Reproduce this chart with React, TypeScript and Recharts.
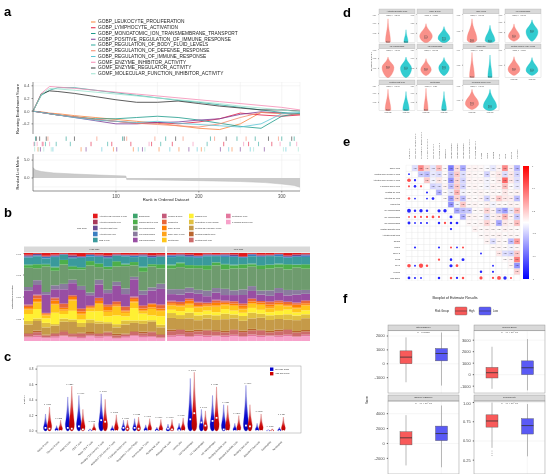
import React from 'react';
import {
  Area, AreaChart, Bar, BarChart, CartesianGrid, ComposedChart, Line, LineChart,
  Scatter, ScatterChart, XAxis, YAxis,
} from 'recharts';

const FONT = '"Liberation Sans", Arial, Helvetica, sans-serif';
const AXIS = '#4d4d4d';

// ---------- panel a: GSEA ----------
const gseaSets = [
  'GOBP_LEUKOCYTE_PROLIFERATION',
  'GOBP_LYMPHOCYTE_ACTIVATION',
  'GOBP_MONOATOMIC_ION_TRANSMEMBRANE_TRANSPORT',
  'GOBP_POSITIVE_REGULATION_OF_IMMUNE_RESPONSE',
  'GOBP_REGULATION_OF_BODY_FLUID_LEVELS',
  'GOBP_REGULATION_OF_DEFENSE_RESPONSE',
  'GOBP_REGULATION_OF_IMMUNE_RESPONSE',
  'GOMF_ENZYME_INHIBITOR_ACTIVITY',
  'GOMF_ENZYME_REGULATOR_ACTIVITY',
  'GOMF_MOLECULAR_FUNCTION_INHIBITOR_ACTIVITY',
];
const gseaColors = ['#F8833D', '#E3183D', '#1C9A8A', '#7B3A96', '#2DAA9E', '#F4866A', '#5CC5D5', '#F58BB4', '#333333', '#9EE3D1'];
const rankPoints = [0, 10, 20, 30, 50, 75, 100, 125, 150, 175, 200, 225, 250, 275, 300, 322];
const esLeuk = [0, -0.01, -0.03, -0.04, -0.07, -0.1, -0.13, -0.16, -0.19, -0.23, -0.27, -0.29, -0.2, -0.02, -0.03, -0.05];
const esLymph = [0, -0.02, -0.04, -0.06, -0.09, -0.13, -0.16, -0.19, -0.18, -0.2, -0.17, -0.12, -0.03, -0.06, -0.08, -0.06];
const esIon = [0, -0.02, -0.04, -0.06, -0.09, -0.12, -0.12, -0.1, -0.08, -0.1, -0.14, -0.19, -0.24, -0.27, -0.08, -0.03];
const esPosImm = [0, -0.02, -0.04, -0.06, -0.1, -0.15, -0.2, -0.2, -0.18, -0.17, -0.14, -0.12, -0.05, -0.01, -0.03, -0.05];
const esFluid = [0, 0.25, 0.33, 0.37, 0.37, 0.33, 0.29, 0.25, 0.21, 0.17, 0.14, 0.1, 0.06, 0.02, -0.02, -0.04];
const esDefense = [0, -0.02, -0.04, -0.06, -0.09, -0.13, -0.16, -0.19, -0.21, -0.23, -0.25, -0.2, -0.1, -0.02, -0.04, -0.05];
const esImm = [0, -0.02, -0.04, -0.06, -0.1, -0.14, -0.16, -0.18, -0.16, -0.19, -0.21, -0.23, -0.25, -0.2, -0.04, -0.02];
const esEnzInh = [0, 0.28, 0.39, 0.38, 0.36, 0.33, 0.3, 0.27, 0.24, 0.21, 0.18, 0.15, 0.12, 0.09, 0.06, 0.02];
const esEnzReg = [0, 0.27, 0.32, 0.31, 0.28, 0.23, 0.18, 0.14, 0.14, 0.16, 0.12, 0.08, 0.05, 0.02, 0.02, 0];
const esMolInh = [0, 0.26, 0.36, 0.35, 0.33, 0.3, 0.27, 0.24, 0.21, 0.18, 0.15, 0.12, 0.08, 0.05, 0.02, -0.01];
const esCurves = [esLeuk, esLymph, esIon, esPosImm, esFluid, esDefense, esImm, esEnzInh, esEnzReg, esMolInh];

const hitsLeuk = [6, 58, 97, 121, 152, 176, 203, 240];
const hitsLymph = [12, 70, 95, 118, 143, 168, 230, 260, 288];
const hitsIon = [3, 40, 108, 160, 214, 246, 268, 300, 315];
const hitsPosImm = [9, 64, 101, 132, 188, 226, 250, 279];
const hitsFluid = [2, 15, 28, 45, 90, 154, 210, 272, 310];
const hitsDefense = [18, 77, 113, 147, 181, 219, 257, 296];
const hitsImm = [24, 83, 127, 165, 198, 236, 262, 305];
const hitsEnzInh = [1, 5, 11, 20, 140, 193, 254, 298, 318];
const hitsEnzReg = [4, 8, 16, 50, 110, 172, 233, 284, 312];
const hitsMolInh = [2, 7, 13, 22, 135, 207, 266, 302, 320];
const hitLists = [hitsLeuk, hitsLymph, hitsIon, hitsPosImm, hitsFluid, hitsDefense, hitsImm, hitsEnzInh, hitsEnzReg, hitsMolInh];

const metricRank = [0, 3, 10, 25, 50, 80, 112, 113, 150, 200, 250, 280, 300, 315, 322];
const metricValue = [2.9, 2.2, 1.8, 1.4, 1.1, 0.8, 0.55, -0.45, -0.55, -0.75, -1.0, -1.3, -1.7, -2.1, -2.6];

// ---------- panel b: CIBERSORT proportions (16 High Risk + 16 Low Risk samples) ----------
const cellTypes = [
  'Activated CD4 memory T cells', 'Activated dendritic cells', 'Activated mast cells', 'Activated NK cells', 'CD8 T cells',
  'Eosinophils', 'Gamma delta T cells', 'M0 Macrophages', 'M1 Macrophages', 'M2 Macrophages',
  'Memory B cells', 'Monocytes', 'Naive B cells', 'Naive CD4 T cells', 'Neutrophils',
  'Plasma cells', 'Regulatory T cells (Tregs)', 'Resting CD4 memory T cells', 'Resting dendritic cells', 'Resting mast cells',
  'Resting NK cells', 'T follicular helper cells',
];
const cellColors = [
  '#E41A1C', '#A8385A', '#6A4C93', '#3A7EC1', '#3A9A9C',
  '#3DA46C', '#4DAF4A', '#6E9B6E', '#8A7B9E', '#984EA3',
  '#C45A7A', '#E8673A', '#FF7F00', '#FFA31A', '#FFC61A',
  '#FFF033', '#E0C040', '#C59A48', '#B9652F', '#CD6B6B',
  '#E3789E', '#F7A1CA',
];
const pActCD4 = [2, 1, 3, 2, 1, 2, 4, 1, 2, 3, 1, 2, 2, 1, 3, 2, 2, 1, 2, 3, 1, 2, 1, 2, 4, 1, 2, 2, 1, 3, 2, 1];
const pActDC = [1, 0, 1, 1, 0, 1, 0, 1, 1, 0, 1, 0, 1, 1, 0, 1, 0, 1, 0, 1, 1, 0, 1, 0, 1, 0, 1, 1, 0, 1, 0, 1];
const pActMast = [1, 2, 0, 1, 1, 2, 1, 0, 1, 2, 1, 1, 0, 1, 2, 1, 1, 1, 2, 0, 1, 1, 1, 2, 0, 1, 1, 0, 1, 1, 2, 1];
const pActNK = [1, 1, 2, 1, 0, 1, 1, 2, 1, 1, 0, 1, 2, 1, 1, 0, 2, 1, 1, 2, 1, 1, 2, 1, 1, 2, 1, 1, 2, 1, 1, 2];
const pCD8 = [8, 10, 6, 12, 7, 9, 11, 5, 8, 10, 7, 9, 6, 12, 8, 9, 9, 8, 10, 9, 11, 8, 9, 10, 8, 9, 10, 11, 9, 8, 10, 9];
const pEos = [1, 0, 1, 1, 0, 1, 1, 0, 1, 0, 1, 1, 0, 1, 0, 1, 1, 1, 0, 1, 1, 0, 1, 1, 0, 1, 1, 0, 1, 1, 0, 1];
const pGammaDelta = [3, 5, 2, 4, 6, 3, 2, 5, 4, 3, 6, 2, 4, 5, 3, 4, 4, 5, 4, 3, 5, 4, 6, 4, 5, 3, 4, 5, 4, 6, 4, 5];
const pM0 = [22, 15, 28, 18, 25, 12, 20, 30, 16, 24, 19, 27, 14, 22, 26, 18, 25, 28, 24, 27, 26, 29, 25, 28, 26, 24, 27, 28, 25, 26, 29, 27];
const pM1 = [4, 6, 3, 5, 7, 4, 5, 3, 6, 4, 5, 7, 3, 5, 4, 6, 6, 7, 6, 5, 7, 6, 8, 6, 7, 6, 5, 7, 6, 7, 6, 5];
const pM2 = [16, 12, 20, 10, 18, 14, 22, 11, 17, 13, 19, 15, 21, 12, 16, 18, 8, 9, 7, 10, 8, 9, 7, 8, 10, 9, 8, 7, 9, 8, 10, 8];
const pMemB = [1, 1, 0, 1, 1, 0, 1, 1, 0, 1, 1, 0, 1, 1, 0, 1, 1, 0, 1, 1, 0, 1, 1, 0, 1, 1, 0, 1, 1, 0, 1, 1];
const pMono = [2, 4, 1, 3, 5, 2, 3, 1, 4, 2, 3, 5, 2, 3, 1, 4, 2, 3, 2, 3, 2, 3, 2, 3, 2, 3, 2, 3, 2, 3, 2, 3];
const pNaiveB = [2, 3, 1, 4, 2, 3, 2, 1, 3, 4, 2, 1, 3, 2, 4, 2, 2, 2, 3, 2, 2, 3, 2, 2, 3, 2, 2, 3, 2, 2, 3, 2];
const pNaiveCD4 = [1, 2, 1, 1, 2, 1, 2, 1, 1, 2, 1, 2, 1, 1, 2, 1, 1, 1, 2, 1, 1, 2, 1, 1, 2, 1, 1, 2, 1, 1, 2, 1];
const pNeut = [5, 8, 3, 10, 4, 12, 6, 3, 9, 5, 11, 4, 7, 3, 8, 6, 5, 6, 4, 6, 5, 7, 5, 6, 4, 5, 6, 5, 7, 4, 5, 6];
const pPlasma = [8, 12, 5, 14, 6, 10, 4, 9, 13, 7, 11, 5, 15, 8, 6, 10, 4, 5, 6, 4, 5, 4, 6, 5, 4, 6, 5, 4, 5, 6, 4, 5];
const pTregs = [4, 3, 5, 2, 4, 3, 5, 4, 3, 2, 4, 5, 3, 4, 2, 3, 6, 5, 7, 6, 5, 6, 7, 5, 6, 7, 5, 6, 5, 7, 6, 5];
const pRestCD4 = [10, 12, 8, 9, 11, 13, 7, 10, 12, 9, 8, 11, 10, 9, 12, 8, 14, 13, 15, 12, 14, 13, 15, 14, 12, 13, 15, 14, 13, 12, 14, 15];
const pRestDC = [1, 2, 1, 1, 2, 1, 1, 2, 1, 1, 2, 1, 1, 2, 1, 1, 2, 1, 2, 2, 1, 2, 2, 1, 2, 2, 1, 2, 2, 1, 2, 2];
const pRestMast = [3, 4, 2, 3, 5, 3, 4, 2, 3, 4, 3, 2, 4, 3, 5, 3, 5, 6, 5, 4, 6, 5, 4, 6, 5, 5, 6, 4, 5, 6, 5, 4];
const pRestNK = [1, 2, 1, 2, 1, 1, 2, 1, 2, 1, 1, 2, 1, 2, 1, 1, 2, 2, 1, 2, 2, 1, 2, 2, 1, 2, 2, 1, 2, 2, 1, 2];
const pTfh = [4, 5, 3, 4, 6, 4, 3, 5, 4, 5, 3, 4, 6, 4, 5, 3, 5, 6, 5, 6, 5, 6, 5, 6, 5, 6, 5, 6, 5, 6, 5, 6];
const cellValues = [
  pActCD4, pActDC, pActMast, pActNK, pCD8, pEos, pGammaDelta, pM0, pM1, pM2, pMemB,
  pMono, pNaiveB, pNaiveCD4, pNeut, pPlasma, pTregs, pRestCD4, pRestDC, pRestMast, pRestNK, pTfh,
];
const highRiskCount = 16;

// ---------- panel c: violin summary ----------
const cNames = [
  'Naive B cells', 'Memory B cells', 'Plasma cells', 'CD8 T cells', 'Naive CD4 T cells',
  'Resting CD4 memory T cells', 'Activated CD4 memory T cells', 'T follicular helper cells',
  'Regulatory T cells (Tregs)', 'Gamma delta T cells', 'Resting NK cells', 'Activated NK cells',
  'Monocytes', 'M0 Macrophages', 'M1 Macrophages', 'M2 Macrophages', 'Resting dendritic cells',
  'Activated dendritic cells', 'Resting mast cells', 'Activated mast cells', 'Eosinophils', 'Neutrophils',
];
const cLowMax = [0.22, 0.07, 0.44, 0.46, 0.03, 0.48, 0.07, 0.14, 0.16, 0.08, 0.05, 0.09, 0.1, 0.68, 0.28, 0.46, 0.34, 0.1, 0.59, 0.1, 0.02, 0.05];
const cHighMax = [0.31, 0.14, 0.58, 0.28, 0.1, 0.41, 0.21, 0.14, 0.18, 0.16, 0.15, 0.15, 0.17, 0.76, 0.26, 0.57, 0.33, 0.2, 0.34, 0.22, 0.03, 0.18];
const cLowMedian = [0.04, 0, 0.04, 0.06, 0, 0.14, 0, 0.04, 0.04, 0, 0, 0.03, 0.01, 0.15, 0.11, 0.13, 0.02, 0, 0.07, 0, 0, 0];
const cHighMedian = [0.03, 0, 0.03, 0.02, 0, 0.12, 0, 0.03, 0.03, 0, 0, 0.02, 0, 0.23, 0.07, 0.17, 0, 0, 0.06, 0, 0, 0];
const cPvals = [
  'p=0.086', 'p=0.273', 'p=0.329', 'p=0.004', 'p=0.511', 'p=0.098', 'p=0.203', 'p=0.057', 'p=0.082', 'p=0.140', 'p=0.264',
  'p=0.007', 'p=0.056', 'p=0.001', 'p=0.041', 'p=0.021', 'p=0.027', 'p=0.269', 'p=0.249', 'p=0.287', 'p=0.316', 'p=0.136',
];

// ---------- panel d: faceted violins ----------
const dTitles = [
  'Activated Dendritic Cells', 'Naive B cells', 'CD8 T cells', 'M0 Macrophages', 'M1 Macrophages', 'M2 Macrophages',
  'Monocytes', 'Resting Memory CD4 T cells', 'Resting Mast cells', 'Neutrophils', 'T follicular helper cells',
];
const dPvals = [
  'Wilcox, p = 3.2e-06', 'Wilcox, p = 0.0021', 'Wilcox, p = 1.5e-05', 'Wilcox, p = 8.7e-09', 'Wilcox, p = 4.1e-07',
  'Wilcox, p = 2.6e-05', 'Wilcox, p = 0.013', 'Wilcox, p = 0.0048', 'Wilcox, p = 6.3e-04', 'Wilcox, p = 0.031', 'Wilcox, p = 1.1e-06',
];
const dYMax = [0.24, 0.3, 0.36, 0.7, 0.18, 0.24, 0.34, 0.34, 0.24, 0.24, 0.36];
const dHighRange = [[0, 0.2], [0, 0.2], [0, 0.3], [0.04, 0.46], [0, 0.13], [0.02, 0.16], [0, 0.3], [0.03, 0.25], [0, 0.2], [0, 0.21], [0.02, 0.3]];
const dHighMode = [0.01, 0.07, 0.04, 0.16, 0.065, 0.07, 0.008, 0.1, 0.008, 0.005, 0.1];
const dHighWidth = [0.35, 0.9, 0.7, 0.8, 0.85, 0.75, 0.35, 0.85, 0.4, 0.3, 0.95];
const dHighMedian = [0.005, 0.06, 0.03, 0.16, 0.065, 0.07, 0.004, 0.1, 0.005, 0.003, 0.1];
const dLowRange = [[0, 0.11], [0, 0.17], [0, 0.22], [0.04, 0.56], [0, 0.13], [0.02, 0.17], [0, 0.27], [0.03, 0.24], [0, 0.18], [0, 0.18], [0, 0.3]];
const dLowMode = [0.005, 0.05, 0.03, 0.27, 0.06, 0.085, 0.008, 0.09, 0.008, 0.008, 0.06];
const dLowWidth = [0.3, 0.85, 0.7, 0.85, 0.8, 0.75, 0.3, 0.85, 0.45, 0.35, 0.95];
const dLowMedian = [0.003, 0.04, 0.02, 0.28, 0.06, 0.085, 0.003, 0.09, 0.005, 0.004, 0.06];

// ---------- panel e: correlation matrix ----------
const eVars = [
  'CD8 T cells', 'Resting CD4 memory T cells', 'Activated CD4 memory T cells', 'T follicular helper cells',
  'Resting NK cells', 'Activated NK cells', 'Monocytes', 'M0 Macrophages', 'M1 Macrophages', 'M2 Macrophages',
  'Resting dendritic cells', 'Activated mast cells', 'CD163', 'MMP9', 'S100A8', 'TLR2', 'PTX3', 'CXCR1', 'Risk Score',
];
// row i holds r(i, j) for j = i+1 .. 18
const eCorrUpper = [
  [-0.15, 0.55, 0.2, -0.12, 0.3, 0.02, -0.6, 0.15, -0.4, 0.04, 0.05, 0.03, -0.02, -0.1, 0.05, 0.55, 0.06, -0.35],
  [-0.25, -0.3, -0.1, -0.15, 0.02, -0.3, 0.25, -0.15, 0.05, 0.03, 0.02, -0.2, 0.04, 0.1, -0.15, 0.1, -0.2],
  [0.25, -0.05, 0.1, 0.02, -0.5, 0.2, -0.2, 0.05, 0.03, 0.04, -0.05, 0.02, 0.08, 0.7, 0.1, -0.15],
  [-0.2, -0.15, 0.05, -0.3, 0.25, -0.2, 0.03, 0.04, 0.02, -0.05, 0.05, 0.04, 0.3, 0.02, -0.1],
  [-0.35, 0.02, -0.1, 0.35, -0.05, 0.02, 0.03, 0.04, 0.02, 0.03, 0.02, 0.1, 0.03, 0.05],
  [0.02, -0.45, 0.2, -0.3, 0.04, 0.02, 0.05, -0.2, 0.05, 0.25, 0.1, 0.08, -0.3],
  [-0.5, -0.05, 0.25, 0.03, 0.04, 0.02, 0.05, -0.05, 0.03, 0.02, 0.06, 0.04],
  [-0.4, -0.3, -0.25, 0.02, 0.03, 0.2, 0.05, -0.3, -0.45, -0.1, 0.3],
  [-0.35, 0.05, 0.04, 0.02, -0.15, 0.05, 0.1, 0.35, 0.05, -0.25],
  [0.03, 0.02, 0.04, 0.2, 0.05, -0.4, 0.1, 0.05, 0.3],
  [0.05, 0.02, 0.04, 0.03, 0.02, 0.05, 0.03, 0.02],
  [0.02, 0.04, 0.03, 0.05, 0.02, 0.04, 0.03],
  [0.05, -0.15, 0.04, 0.02, -0.3, 0.45],
  [0.03, 0.04, 0.02, -0.05, 0.04],
  [0.1, -0.15, -0.2, 0.25],
  [0.02, 0.05, 0.6],
  [0.04, -0.5],
  [0.2],
];
const eBarTicks = [1, 0.6, 0.2, -0.2, -0.6, -1];

// ---------- panel f: ESTIMATE boxplots ----------
const fScores = ['StromalScore', 'ImmuneScore', 'ESTIMATEScore', 'TumorPurity'];
const fPvals = ['p = 0.00018', 'p = 4.4 × 10^-11', 'p = 4.4 × 10^-11', 'p = 4.4 × 10^-11'];
// [lower whisker, Q1, median, Q3, upper whisker]
const fHigh = [[-1330, 0, 480, 930, 1900], [-1230, -290, 170, 630, 2430], [-2950, -190, 760, 1570, 3800], [0.41, 0.68, 0.76, 0.84, 1.0]];
const fLow = [[-1570, 210, 740, 1100, 2250], [-1370, 0, 600, 1200, 3100], [-3200, 380, 1330, 2330, 5100], [0.3, 0.59, 0.7, 0.79, 0.98]];
const fHighOutliers = [[], [], [], [0.37, 0.34, 0.31]];
const fLowOutliers = [[], [], [], []];
const fDomains = [[-2140, 2360], [-1640, 3800], [-4100, 5700], [0.07, 1.02]];
const fTicks = [[-2000, -1000, 0, 1000, 2000], [-1000, 0, 1000, 2000, 3000], [-2000, 0, 2000, 4000], [0.25, 0.5, 0.75, 1]];

// ---------- helpers ----------
const Abs = ({ x, y, children }: any) => (
  <div style={{ position: 'absolute', left: x, top: y, willChange: 'transform' }}>{children}</div>
);
const Layer = ({ children }: any) => (
  <svg width={550} height={474} fontFamily={FONT}
    style={{ position: 'absolute', left: 0, top: 0, overflow: 'visible', pointerEvents: 'none', willChange: 'transform' }}>
    {children}
  </svg>
);
const VText = ({ x, y, size, children }: any) => (
  <text x={x} y={y} fontSize={size} fill="#222" textAnchor="middle" dominantBaseline="middle"
    transform={`rotate(-90 ${x} ${y})`}>{children}</text>
);
const Tag = ({ x, y, t }: any) => (
  <text x={x} y={y} fontSize={13} fontWeight={700} fill="#000">{t}</text>
);
const fmt = (v: any, d: number) => (typeof v === 'number' ? v.toFixed(d) : String(v ?? ''));

function corrColor(r: number) {
  const t = Math.min(1, Math.abs(r));
  const c = Math.round(255 * (1 - t));
  return r >= 0 ? `rgb(255,${c},${c})` : `rgb(${c},${c},255)`;
}

// ---------- panel a ----------
function PanelA() {
  const esData = rankPoints.map((r, i) => {
    const row: any = { rank: r };
    esCurves.forEach((c, k) => { row['s' + k] = c[i]; });
    return row;
  });
  const metricData = metricRank.map((r, i) => ({ rank: r, value: metricValue[i] }));
  return (
    <>
      <Abs x={0} y={82}>
        <LineChart width={305} height={52} data={esData} margin={{ top: 0, right: 5, bottom: 0, left: 0 }}>
          <CartesianGrid stroke="#ebebeb" strokeWidth={0.5} />
          <XAxis dataKey="rank" type="number" domain={[0, 322]} ticks={[50, 100, 150, 200, 250, 300]} hide />
          <YAxis type="number" domain={[-0.36, 0.46]} ticks={[-0.2, 0, 0.2, 0.4]} width={33}
            tickFormatter={(v: any) => fmt(v, 1)} tick={{ fontSize: 4, fill: AXIS }} tickSize={1.5}
            stroke="#333" strokeWidth={0.5} />
          {esCurves.map((_, k) => (
            <Line key={k} dataKey={'s' + k} type="linear" stroke={gseaColors[k]} strokeWidth={0.8}
              dot={false} isAnimationActive={false} />
          ))}
        </LineChart>
      </Abs>
      <Abs x={0} y={134}>
        <ScatterChart width={305} height={20} margin={{ top: 2, right: 5, bottom: 2, left: 33 }}>
          <XAxis dataKey="rank" type="number" domain={[0, 322]} hide />
          <YAxis dataKey="lane" type="number" domain={[-0.5, 2.5]} hide />
          {hitLists.map((h, k) => (
            <Scatter key={k} data={h.map((r) => ({ rank: r, lane: k % 3 }))} isAnimationActive={false}
              shape={(p: any) => (
                <line x1={p.cx} x2={p.cx} y1={p.cy - 2.2} y2={p.cy + 2.2} stroke={gseaColors[k]} strokeWidth={0.6} />
              )} />
          ))}
        </ScatterChart>
      </Abs>
      <Abs x={0} y={154}>
        <AreaChart width={305} height={47} data={metricData} margin={{ top: 0, right: 5, bottom: 0, left: 0 }}>
          <CartesianGrid stroke="#ebebeb" strokeWidth={0.5} />
          <XAxis dataKey="rank" type="number" domain={[0, 322]} ticks={[100, 200, 300]} height={10}
            tick={{ fontSize: 4.5, fill: AXIS }} tickSize={1.5} stroke="#333" strokeWidth={0.5} />
          <YAxis type="number" domain={[-3.65, 6.7]} ticks={[-2.5, 0, 2.5, 5]} width={33}
            tickFormatter={(v: any) => fmt(v, 1)} tick={{ fontSize: 4, fill: AXIS }} tickSize={1.5}
            stroke="#333" strokeWidth={0.5} />
          <Area dataKey="value" type="linear" baseValue={0} fill="#cbcbcb" fillOpacity={1} stroke="#bdbdbd"
            strokeWidth={0.5} isAnimationActive={false} />
        </AreaChart>
      </Abs>
      <Layer>
        <Tag x={4} y={16} t="a" />
        {gseaSets.map((s, k) => (
          <g key={s}>
            <line x1={91} x2={95.5} y1={22 + k * 5.75} y2={22 + k * 5.75} stroke={gseaColors[k]} strokeWidth={1} />
            <text x={98} y={22 + k * 5.75} fontSize={4.8} fill="#222" dominantBaseline="middle">{s}</text>
          </g>
        ))}
        <VText x={18} y={109} size={4.2}>Running Enrichment Score</VText>
        <VText x={18} y={173} size={4}>Ranked List Metric</VText>
        <text x={166} y={200} fontSize={4.2} fill="#222" textAnchor="middle" dominantBaseline="middle">Rank in Ordered Dataset</text>
      </Layer>
    </>
  );
}

// ---------- panel b ----------
function PanelB() {
  const rows = cellValues[0].map((_, s) => {
    const row: any = { id: 's' + s };
    cellValues.forEach((vals, k) => { row['c' + k] = vals[s]; });
    return row;
  });
  const high = rows.slice(0, highRiskCount);
  const low = rows.slice(highRiskCount);
  const order = cellTypes.map((_, k) => cellTypes.length - 1 - k); // last level at the bottom
  const bars = order.map((k) => (
    <Bar key={k} dataKey={'c' + k} stackId="s" fill={cellColors[k]} isAnimationActive={false} />
  ));
  const legendX = [93, 133, 162, 189, 226];
  return (
    <>
      <Abs x={0} y={253}>
        <BarChart width={166} height={88} data={high} stackOffset="expand" barCategoryGap={0}
          margin={{ top: 0, right: 1, bottom: 0, left: 0 }}>
          <XAxis dataKey="id" hide />
          <YAxis width={24} domain={[0, 1]} ticks={[0.25, 0.5, 0.75, 1]} tickFormatter={(v: any) => fmt(v, 2)}
            tick={{ fontSize: 2.4, fill: AXIS }} tickSize={1} axisLine={false} stroke="#888" />
          {bars}
        </BarChart>
      </Abs>
      <Abs x={167} y={253}>
        <BarChart width={143} height={88} data={low} stackOffset="expand" barCategoryGap={0}
          margin={{ top: 0, right: 0, bottom: 0, left: 0 }}>
          <XAxis dataKey="id" hide />
          <YAxis hide domain={[0, 1]} />
          {bars}
        </BarChart>
      </Abs>
      <Layer>
        <Tag x={4} y={217} t="b" />
        <text x={77} y={228} fontSize={2.4} fill="#222" dominantBaseline="middle">Cell Type</text>
        {cellTypes.map((c, k) => {
          const lx = legendX[Math.floor(k / 5)];
          const ly = 216 + (k % 5) * 6;
          return (
            <g key={c}>
              <rect x={lx} y={ly - 2.3} width={4.6} height={4.6} fill={cellColors[k]} />
              <text x={lx + 6} y={ly} fontSize={2.1} fill="#333" dominantBaseline="middle">{c}</text>
            </g>
          );
        })}
        <rect x={24} y={246.5} width={141} height={6} fill="#d9d9d9" />
        <text x={94.5} y={249.6} fontSize={2.3} fill="#333" textAnchor="middle" dominantBaseline="middle">High Risk</text>
        <rect x={167} y={246.5} width={143} height={6} fill="#d9d9d9" />
        <text x={238.5} y={249.6} fontSize={2.3} fill="#333" textAnchor="middle" dominantBaseline="middle">Low Risk</text>
        <VText x={12} y={297} size={2.5}>Estimated Proportion</VText>
      </Layer>
    </>
  );
}

// ---------- panel c ----------
function cViolin(side: 'low' | 'high') {
  return (p: any) => {
    const { x, y, width, height, payload } = p;
    const hi = payload[side][1];
    if (!(height > 0) || !(hi > 0)) return <g />;
    const bot = y + height;
    const px = (v: number) => bot - (v / hi) * height;
    const cx = x + width / 2;
    const w = width * (0.85 + 0.45 * Math.min(1, height / 40));
    const sh = Math.min(height * 0.22, 7);
    const d = `M${cx},${bot} Q${cx - w / 2},${bot} ${cx - w / 2},${bot - sh} Q${cx - w * 0.15},${bot - height * 0.5} ${cx},${y} ` +
      `Q${cx + w * 0.15},${bot - height * 0.5} ${cx + w / 2},${bot - sh} Q${cx + w / 2},${bot} ${cx},${bot} Z`;
    const med = side === 'low' ? payload.lowMed : payload.highMed;
    return (
      <g>
        <path d={d} fill={`url(#cg-${side})`} stroke={side === 'low' ? '#2020c8' : '#c82020'} strokeWidth={0.25} />
        <rect x={cx - 0.9} y={px(med) - 0.9} width={1.8} height={1.8} fill="#fff" />
        {side === 'high' && (
          <text x={x} y={px(payload.top) - 1.6} textAnchor="middle" fontSize={1.9} fill="#333">{payload.p}</text>
        )}
      </g>
    );
  };
}
const cLowShape = cViolin('low');
const cHighShape = cViolin('high');

function PanelC() {
  const data = cNames.map((n, i) => ({
    name: n,
    low: [0, cLowMax[i]],
    high: [0, cHighMax[i]],
    lowMed: cLowMedian[i],
    highMed: cHighMedian[i],
    top: Math.max(cLowMax[i], cHighMax[i]),
    p: cPvals[i],
  }));
  return (
    <>
      <Abs x={0} y={366}>
        <ComposedChart width={301} height={108} data={data} barGap={0} barCategoryGap={1.5}
          margin={{ top: 0, right: 0, bottom: 0, left: 0 }}>
          <defs>
            <linearGradient id="cg-low" x1="0" y1="0" x2="0" y2="1">
              <stop offset="0" stopColor="#dcdce6" />
              <stop offset="0.65" stopColor="#0a0ad0" />
              <stop offset="1" stopColor="#0000b4" />
            </linearGradient>
            <linearGradient id="cg-high" x1="0" y1="0" x2="0" y2="1">
              <stop offset="0" stopColor="#e6dcdc" />
              <stop offset="0.65" stopColor="#d00a0a" />
              <stop offset="1" stopColor="#b40000" />
            </linearGradient>
          </defs>
          <XAxis dataKey="name" interval={0} height={41} padding={{ left: 5, right: 14 }} axisLine={false} tickLine={false}
            tick={(p: any) => (
              <text x={p.x + 1} y={p.y + 1} textAnchor="end" fontSize={2.5} fill="#333"
                transform={`rotate(-45 ${p.x + 1} ${p.y + 1})`}>{p.payload.value}</text>
            )} />
          <YAxis type="number" domain={[-0.026, 0.84]} ticks={[0, 0.2, 0.4, 0.6, 0.8]} width={37}
            tickFormatter={(v: any) => fmt(v, 1)} tick={{ fontSize: 3, fill: AXIS }} tickSize={1.5}
            axisLine={false} stroke="#666" />
          <Bar dataKey="low" shape={cLowShape} isAnimationActive={false} />
          <Bar dataKey="high" shape={cHighShape} isAnimationActive={false} />
        </ComposedChart>
      </Abs>
      <Layer>
        <Tag x={4} y={361} t="c" />
        <rect x={37} y={366} width={264} height={67} fill="none" stroke="#999" strokeWidth={0.5} />
        <rect x={270} y={367.5} width={3.4} height={3.4} fill="#0000cc" />
        <text x={275} y={369.3} fontSize={2} fill="#333" dominantBaseline="middle">Low Risk Group</text>
        <rect x={270} y={372} width={3.4} height={3.4} fill="#cc0000" />
        <text x={275} y={373.8} fontSize={2} fill="#333" dominantBaseline="middle">High Risk Group</text>
        <VText x={24} y={400} size={2.4}>Fraction</VText>
      </Layer>
    </>
  );
}

// ---------- panel d ----------
const D_HIGH = '#F8766D';
const D_LOW = '#00BFC4';
const dViolinShape = (p: any) => {
  const { x, y, width, height, payload, index } = p;
  if (!payload || !(height > 0)) return <g />;
  const [lo, hi] = payload.range;
  const py = (v: number) => y + ((hi - v) / (hi - lo)) * height;
  const cx = x + width / 2;
  const W = width * payload.w;
  const yt = py(hi);
  const yb = py(lo);
  const ym = py(payload.mode);
  const color = index === 0 ? D_HIGH : D_LOW;
  const d = `M${cx},${yt} C${cx - W * 0.06},${yt + (ym - yt) * 0.5} ${cx - W / 2},${ym - (ym - yt) * 0.35} ${cx - W / 2},${ym} ` +
    `C${cx - W / 2},${ym + (yb - ym) * 0.5} ${cx - W * 0.12},${yb} ${cx},${yb} ` +
    `C${cx + W * 0.12},${yb} ${cx + W / 2},${ym + (yb - ym) * 0.5} ${cx + W / 2},${ym} ` +
    `C${cx + W / 2},${ym - (ym - yt) * 0.35} ${cx + W * 0.06},${yt + (ym - yt) * 0.5} ${cx},${yt} Z`;
  const my = py(payload.med);
  return (
    <g>
      <path d={d} fill={color} fillOpacity={0.8} stroke={color} strokeWidth={0.3} />
      <rect x={cx - 1.3} y={my - 1.3} width={2.6} height={2.6} fill="none" stroke="#444" strokeWidth={0.25} />
      <line x1={cx - 1.3} x2={cx + 1.3} y1={my} y2={my} stroke="#222" strokeWidth={0.3} />
    </g>
  );
};

const dColX = [379, 417, 463, 505];
const dRowY = [9, 44, 80];
const dPanelH = [29, 29, 26];

function DFacet({ f }: { f: number }) {
  const col = f % 4;
  const row = Math.floor(f / 4);
  const data = [
    { g: 'High risk', range: dHighRange[f], mode: dHighMode[f], w: dHighWidth[f], med: dHighMedian[f] },
    { g: 'Low risk', range: dLowRange[f], mode: dLowMode[f], w: dLowWidth[f], med: dLowMedian[f] },
  ];
  return (
    <Abs x={dColX[col] - 9} y={dRowY[row] + 4.5}>
      <ComposedChart width={45} height={dPanelH[row]} data={data} margin={{ top: 0, right: 0, bottom: 0, left: 0 }}>
        <XAxis dataKey="g" hide />
        <YAxis type="number" domain={[0, dYMax[f]]} tickCount={4} width={9} tick={{ fontSize: 1.8, fill: AXIS }}
          tickSize={0.8} axisLine={false} stroke="#888" tickFormatter={(v: any) => fmt(v, 2)} />
        <Bar dataKey="range" barSize={14} shape={dViolinShape} isAnimationActive={false} />
      </ComposedChart>
    </Abs>
  );
}

function PanelD() {
  return (
    <>
      {dTitles.map((_, f) => <DFacet key={f} f={f} />)}
      <Layer>
        <Tag x={343} y={17} t="d" />
        {dTitles.map((t, f) => {
          const col = f % 4;
          const row = Math.floor(f / 4);
          const x0 = dColX[col];
          const y0 = dRowY[row];
          const ph = dPanelH[row];
          const last = f + 4 >= dTitles.length;
          return (
            <g key={t}>
              <rect x={x0} y={y0} width={36} height={4.5} fill="#d9d9d9" stroke="#aaa" strokeWidth={0.3} />
              <text x={x0 + 18} y={y0 + 2.4} fontSize={1.9} fill="#333" textAnchor="middle" dominantBaseline="middle">{t}</text>
              <rect x={x0} y={y0 + 4.5} width={36} height={ph} fill="none" stroke="#bbb" strokeWidth={0.3} />
              <text x={x0 + 14} y={y0 + 7} fontSize={1.6} fill="#333" textAnchor="middle" dominantBaseline="middle">{dPvals[f]}</text>
              {last && (
                <>
                  <text x={x0 + 9} y={y0 + 4.5 + ph + 2.5} fontSize={1.8} fill="#444" textAnchor="middle" dominantBaseline="middle">High risk</text>
                  <text x={x0 + 27} y={y0 + 4.5 + ph + 2.5} fontSize={1.8} fill="#444" textAnchor="middle" dominantBaseline="middle">Low risk</text>
                </>
              )}
            </g>
          );
        })}
        <VText x={371} y={62} size={2}>Estimated Proportion</VText>
      </Layer>
    </>
  );
}

// ---------- panel e ----------
const eCell = (p: any) => {
  const { cx, cy, payload } = p;
  if (!payload || typeof payload.r !== 'number') return <g />;
  const h = 3;
  const { r, part } = payload;
  const sig = Math.abs(r) >= 0.15;
  return (
    <g>
      <rect x={cx - h} y={cy - h} width={2 * h} height={2 * h} fill={part === 'u' ? corrColor(r * 0.85) : '#fff'}
        stroke="#e4e4e4" strokeWidth={0.3} />
      {part === 'u' && (
        <text x={cx} y={cy + 0.5} textAnchor="middle" fontSize={1.5} fill="#333">{r.toFixed(2)}</text>
      )}
      {part === 'l' && sig && (
        <circle cx={cx} cy={cy} r={0.6 + 2.2 * Math.abs(r)}
          fill={r > 0 ? corrColor(Math.max(0.7, r)) : corrColor(Math.min(-0.85, r))} />
      )}
    </g>
  );
};

function PanelE() {
  const n = eVars.length;
  const data: any[] = [];
  for (let i = 0; i < n; i++) {
    for (let j = 0; j < n; j++) {
      let r = 1;
      if (i < j) r = eCorrUpper[i][j - i - 1];
      if (i > j) r = eCorrUpper[j][i - j - 1];
      data.push({ x: j, y: i, r, part: i < j ? 'u' : i > j ? 'l' : 'd' });
    }
  }
  const idx = eVars.map((_, k) => k);
  return (
    <>
      <Abs x={340} y={125}>
        <ScatterChart width={185} height={156} margin={{ top: 0, right: 5, bottom: 0, left: 0 }}>
          <XAxis dataKey="x" type="number" orientation="top" domain={[-0.5, n - 0.5]} ticks={idx} interval={0}
            height={40} axisLine={false} tickLine={false}
            tick={(p: any) => (
              <text x={p.x + 0.6} y={p.y + 2} fontSize={2} fill="#444" textAnchor="start"
                transform={`rotate(-90 ${p.x + 0.6} ${p.y + 2})`}>{eVars[p.payload.value]}</text>
            )} />
          <YAxis dataKey="y" type="number" reversed domain={[-0.5, n - 0.5]} ticks={idx} interval={0} width={66}
            axisLine={false} tickLine={false}
            tick={(p: any) => (
              <text x={p.x + 2} y={p.y + 0.7} fontSize={2} fill="#333" textAnchor="end">{eVars[p.payload.value]}</text>
            )} />
          <Scatter data={data} shape={eCell} isAnimationActive={false} />
        </ScatterChart>
      </Abs>
      <Layer>
        <Tag x={343} y={146} t="e" />
        <defs>
          <linearGradient id="ebar" x1="0" y1="0" x2="0" y2="1">
            <stop offset="0" stopColor="#ff0000" />
            <stop offset="0.5" stopColor="#ffffff" />
            <stop offset="1" stopColor="#0000ff" />
          </linearGradient>
        </defs>
        <rect x={523} y={166} width={6} height={113} fill="url(#ebar)" />
        {eBarTicks.map((t) => (
          <text key={t} x={532} y={166 + ((1 - t) / 2) * 113} fontSize={2.2} fill="#555" dominantBaseline="middle">{t}</text>
        ))}
      </Layer>
    </>
  );
}

// ---------- panel f ----------
const fBoxShape = (p: any) => {
  const { x, y, width, height, payload, index } = p;
  if (!payload || !(height > 0)) return <g />;
  const [wlo, q1, med, q3, whi] = payload.stats;
  const py = (v: number) => y + ((whi - v) / (whi - wlo)) * height;
  const cx = x + width / 2;
  const fill = index === 0 ? '#F85A5A' : '#5A5AF5';
  return (
    <g>
      <line x1={cx} x2={cx} y1={py(whi)} y2={py(wlo)} stroke="#8c8c8c" strokeWidth={0.6} />
      <rect x={x} y={py(q3)} width={width} height={py(q1) - py(q3)} fill={fill} stroke="#555" strokeWidth={0.4} />
      <line x1={x} x2={x + width} y1={py(med)} y2={py(med)} stroke="#333" strokeWidth={0.8} />
      {payload.outliers.map((o: number, i: number) => (
        <circle key={i} cx={cx} cy={py(o)} r={0.5} fill="#999" />
      ))}
    </g>
  );
};

const fColX = [388, 474];
const fRowStrip = [325, 395];
const fPanelTop = [330.5, 401];
const fPanelH = [62.5, 73];

function FFacet({ f }: { f: number }) {
  const col = f % 2;
  const row = Math.floor(f / 2);
  const data = [
    { g: 'High', range: [fHigh[f][0], fHigh[f][4]], stats: fHigh[f], outliers: fHighOutliers[f] },
    { g: 'Low', range: [fLow[f][0], fLow[f][4]], stats: fLow[f], outliers: fLowOutliers[f] },
  ];
  return (
    <Abs x={fColX[col] - 16} y={fPanelTop[row]}>
      <ComposedChart width={87} height={fPanelH[row]} data={data} margin={{ top: 0, right: 0, bottom: 0, left: 0 }}>
        <CartesianGrid stroke="#ececec" strokeWidth={0.5} />
        <XAxis dataKey="g" hide />
        <YAxis type="number" domain={fDomains[f]} ticks={fTicks[f]} allowDataOverflow width={16}
          tickFormatter={(v: any) => (f === 3 ? fmt(v, 2) : String(v))}
          tick={{ fontSize: 4, fill: AXIS }} tickSize={1.2} axisLine={false} stroke="#555" />
        <Bar dataKey="range" barSize={12} shape={fBoxShape} isAnimationActive={false} />
      </ComposedChart>
    </Abs>
  );
}

function PanelF() {
  return (
    <>
      {fScores.map((_, f) => <FFacet key={f} f={f} />)}
      <Layer>
        <Tag x={343} y={303} t="f" />
        <text x={455} y={298} fontSize={3.7} fill="#222" textAnchor="middle" dominantBaseline="middle">Boxplot of Estimate Results</text>
        <text x={435} y={311} fontSize={2.8} fill="#222" dominantBaseline="middle">Risk Group</text>
        <rect x={455} y={307} width={12} height={8} rx={1} fill="#F85A5A" stroke="#666" strokeWidth={0.4} />
        <line x1={455} x2={467} y1={311} y2={311} stroke="#333" strokeWidth={0.5} />
        <text x={469} y={311} fontSize={2.6} fill="#222" dominantBaseline="middle">High</text>
        <rect x={479} y={307} width={12} height={8} rx={1} fill="#5A5AF5" stroke="#666" strokeWidth={0.4} />
        <line x1={479} x2={491} y1={311} y2={311} stroke="#333" strokeWidth={0.5} />
        <text x={493} y={311} fontSize={2.6} fill="#222" dominantBaseline="middle">Low</text>
        {fScores.map((s, f) => {
          const col = f % 2;
          const row = Math.floor(f / 2);
          const x0 = fColX[col];
          return (
            <g key={s}>
              <rect x={x0} y={fRowStrip[row]} width={71} height={fPanelTop[row] - fRowStrip[row]} fill="#d9d9d9" stroke="#888" strokeWidth={0.4} />
              <text x={x0 + 35.5} y={fRowStrip[row] + 2.7} fontSize={2.4} fill="#333" textAnchor="middle" dominantBaseline="middle">{s}</text>
              <rect x={x0} y={fPanelTop[row]} width={71} height={fPanelH[row]} fill="none" stroke="#888" strokeWidth={0.4} />
              <text x={x0 + 35.5} y={fPanelTop[row] + 2} fontSize={2.3} fill="#333" textAnchor="middle" dominantBaseline="middle">{fPvals[f]}</text>
            </g>
          );
        })}
        <VText x={367} y={400} size={3}>Score</VText>
      </Layer>
    </>
  );
}

export default function App() {
  return (
    <div style={{ position: 'absolute', left: 0, top: 0, width: 550, height: 474, background: '#fff', overflow: 'hidden', fontFamily: FONT }}>
      <PanelA />
      <PanelB />
      <PanelC />
      <PanelD />
      <PanelE />
      <PanelF />
    </div>
  );
}
